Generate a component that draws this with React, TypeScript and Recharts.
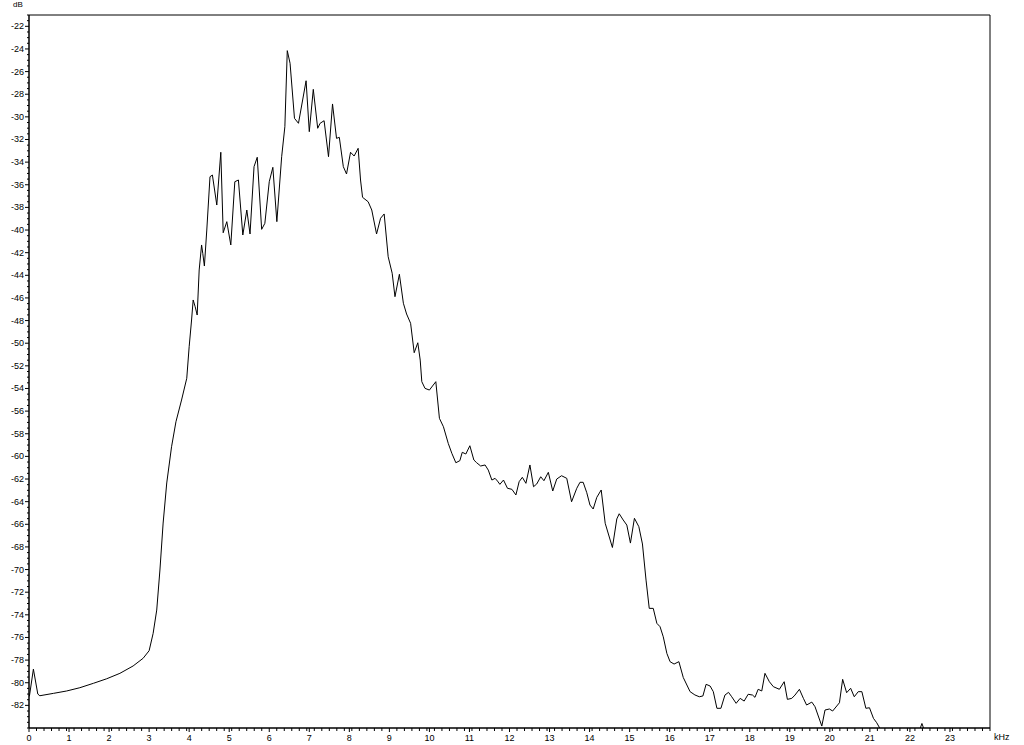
import { LineChart, Line, XAxis, YAxis, ReferenceArea } from 'recharts';

// spectrum trace (kHz / dB)
const freqKHz = [
  0.01, 0.11, 0.22, 0.27, 0.61, 0.94, 1.27, 1.61, 1.94, 2.27, 2.6, 2.85, 3.0, 3.1, 3.19, 3.27,
  3.35, 3.44, 3.56, 3.67, 3.81, 3.94, 4.0, 4.06, 4.1, 4.15, 4.2, 4.25, 4.31, 4.34, 4.38, 4.44,
  4.52, 4.58, 4.69, 4.79, 4.85, 4.94, 5.04, 5.14, 5.23, 5.34, 5.44, 5.52, 5.62, 5.7, 5.81, 5.89,
  6.0, 6.09, 6.19, 6.31, 6.39, 6.45, 6.52, 6.63, 6.73, 6.92, 7.0, 7.1, 7.21, 7.27, 7.37, 7.48,
  7.58, 7.68, 7.75, 7.85, 7.93, 8.03, 8.12, 8.22, 8.28, 8.33, 8.47, 8.56, 8.68, 8.78, 8.87, 8.97,
  9.07, 9.14, 9.25, 9.35, 9.43, 9.53, 9.62, 9.71, 9.77, 9.81, 9.89, 10.0, 10.16, 10.25, 10.35, 10.47,
  10.56, 10.66, 10.76, 10.82, 10.91, 11.01, 11.11, 11.18, 11.28, 11.39, 11.47, 11.56, 11.64, 11.7, 11.76, 11.85,
  11.95, 12.06, 12.16, 12.24, 12.32, 12.41, 12.51, 12.6, 12.68, 12.78, 12.86, 12.97, 13.08, 13.18, 13.3, 13.43,
  13.55, 13.68, 13.76, 13.84, 13.93, 14.01, 14.09, 14.18, 14.29, 14.39, 14.57, 14.68, 14.74, 14.84, 14.93, 15.02,
  15.12, 15.23, 15.32, 15.41, 15.49, 15.59, 15.68, 15.76, 15.84, 15.93, 16.01, 16.11, 16.23, 16.34, 16.51, 16.63,
  16.74, 16.83, 16.91, 17.01, 17.09, 17.18, 17.28, 17.38, 17.47, 17.55, 17.66, 17.76, 17.86, 17.96, 18.07, 18.13,
  18.21, 18.3, 18.38, 18.49, 18.59, 18.74, 18.86, 18.94, 19.05, 19.13, 19.24, 19.34, 19.42, 19.55, 19.63, 19.8,
  19.88, 19.99, 20.07, 20.24, 20.32, 20.42, 20.52, 20.61, 20.71, 20.8, 20.9, 20.99, 21.09, 21.17, 21.25, 21.5,
  21.8, 22.1, 22.23, 22.3, 22.38, 22.7, 23.2, 23.8, 24.0,
];

const levelDb = [
  -81.2, -78.8, -81.0, -81.15, -80.94, -80.73, -80.44, -80.05, -79.65, -79.17, -78.52, -77.84, -77.17, -75.64, -73.58, -70.04,
  -65.89, -62.35, -59.15, -56.94, -55.02, -53.1, -50.31, -47.95, -46.18, -46.78, -47.51, -43.53, -41.32, -42.06, -43.18, -40.0,
  -35.29, -35.14, -37.79, -33.13, -40.24, -39.26, -41.32, -35.73, -35.58, -40.44, -38.23, -40.35, -34.4, -33.57, -39.94, -39.41,
  -35.73, -34.46, -39.26, -33.52, -30.87, -24.15, -25.27, -30.13, -30.57, -26.81, -31.31, -27.57, -31.01, -30.57, -30.34, -33.52,
  -28.86, -31.9, -31.81, -34.4, -35.05, -33.13, -33.46, -32.78, -35.58, -37.11, -37.5, -38.23, -40.35, -38.96, -38.58, -42.36,
  -43.82, -45.89, -43.91, -46.47, -47.42, -48.24, -50.84, -49.96, -51.49, -53.4, -53.99, -54.14, -53.4, -56.64, -57.38, -58.85,
  -59.73, -60.56, -60.38, -59.64, -59.79, -59.06, -60.32, -60.56, -60.85, -60.76, -61.21, -62.09, -61.94, -62.18, -62.47, -62.09,
  -62.82, -62.91, -63.41, -62.24, -61.85, -62.38, -60.76, -62.68, -62.44, -61.8, -62.15, -61.41, -63.06, -62.0, -61.71, -61.94,
  -64.01, -62.82, -62.29, -62.29, -63.21, -64.3, -64.65, -63.62, -62.97, -65.91, -68.05, -65.53, -65.07, -65.62, -66.07, -67.66,
  -65.47, -66.21, -67.74, -70.93, -73.43, -73.43, -74.75, -75.05, -75.94, -77.41, -78.14, -78.35, -78.14, -79.54, -80.79, -81.08,
  -81.24, -81.17, -80.14, -80.29, -80.79, -82.26, -82.26, -81.09, -80.85, -81.24, -81.82, -81.38, -81.62, -81.02, -81.09, -81.29,
  -80.58, -80.73, -79.17, -79.91, -80.35, -80.58, -79.91, -81.47, -81.38, -81.09, -80.58, -81.38, -81.97, -81.71, -82.12, -83.83,
  -82.41, -82.32, -82.5, -81.77, -79.7, -80.88, -80.49, -81.24, -80.79, -80.79, -82.26, -82.21, -83.15, -83.53, -84.03, -85.2,
  -86.0, -85.5, -84.3, -83.6, -84.4, -86.0, -86.5, -87.0, -87.0,
];

const xLabels = Array.from({ length: 24 }, (_, i) => i); // 0 .. 23
const yLabels = Array.from({ length: 31 }, (_, i) => -22 - i * 2); // -22 .. -82

const BIN = 0.1875; // minor x tick spacing (kHz)
const xTicks = Array.from(new Set([...xLabels, ...Array.from({ length: 129 }, (_, i) => i * BIN)])).sort((a, b) => a - b);
const yTicks = Array.from({ length: 127 }, (_, i) => -21 - i * 0.5).filter((v) => v >= -84);

const data = freqKHz.map((f, i) => ({ f, db: levelDb[i] }));

const FONT = '"Liberation Sans", Arial, sans-serif';

function XTick(props: any) {
  const { x, y, payload } = props;
  const v = payload.value;
  const labelled = xLabels.includes(v);
  return (
    <g>
      <line x1={x} y1={y} x2={x} y2={y + (labelled ? 4 : 3)} stroke="#000" />
      {labelled && (
        <text x={x} y={y + 13} textAnchor="middle" fontSize={9} fontFamily={FONT} fill="#000">
          {v}
        </text>
      )}
    </g>
  );
}

function YTick(props: any) {
  const { x, y, payload } = props;
  const v = payload.value;
  const labelled = yLabels.includes(v);
  return (
    <g>
      <line x1={x} y1={y} x2={x - (labelled ? 4 : 2)} y2={y} stroke="#000" />
      {labelled && (
        <text x={x - 5} y={y + 3} textAnchor="end" fontSize={9} fontFamily={FONT} fill="#000">
          {v}
        </text>
      )}
    </g>
  );
}

export default function App() {
  return (
    <div style={{ position: 'absolute', left: 0, top: 0, width: 1024, height: 745, background: '#fff' }}>
      <LineChart width={1024} height={745} data={data} margin={{ top: 15, right: 34, bottom: 0, left: 0 }}>
        <XAxis
          dataKey="f"
          type="number"
          domain={[0, 24]}
          ticks={xTicks}
          interval={0}
          height={17}
          tickSize={0}
          tickMargin={0}
          tickLine={false}
          axisLine={{ stroke: '#000' }}
          tick={<XTick />}
        />
        <YAxis
          type="number"
          domain={[-84, -21]}
          allowDataOverflow
          ticks={yTicks}
          interval={0}
          width={29}
          tickSize={0}
          tickMargin={0}
          tickLine={false}
          axisLine={{ stroke: '#000' }}
          tick={<YTick />}
        />
        <ReferenceArea x1={0} x2={24} y1={-84} y2={-21} fill="none" stroke="#000" strokeWidth={1} />
        <Line
          dataKey="db"
          type="linear"
          stroke="#000"
          strokeWidth={1}
          dot={false}
          isAnimationActive={false}
        />
      </LineChart>
      <div style={{ position: 'absolute', left: 13, top: 0, fontSize: 8, fontFamily: FONT, lineHeight: '10px' }}>dB</div>
      <div style={{ position: 'absolute', left: 994, top: 732, fontSize: 9, fontFamily: FONT, lineHeight: '11px' }}>kHz</div>
    </div>
  );
}
